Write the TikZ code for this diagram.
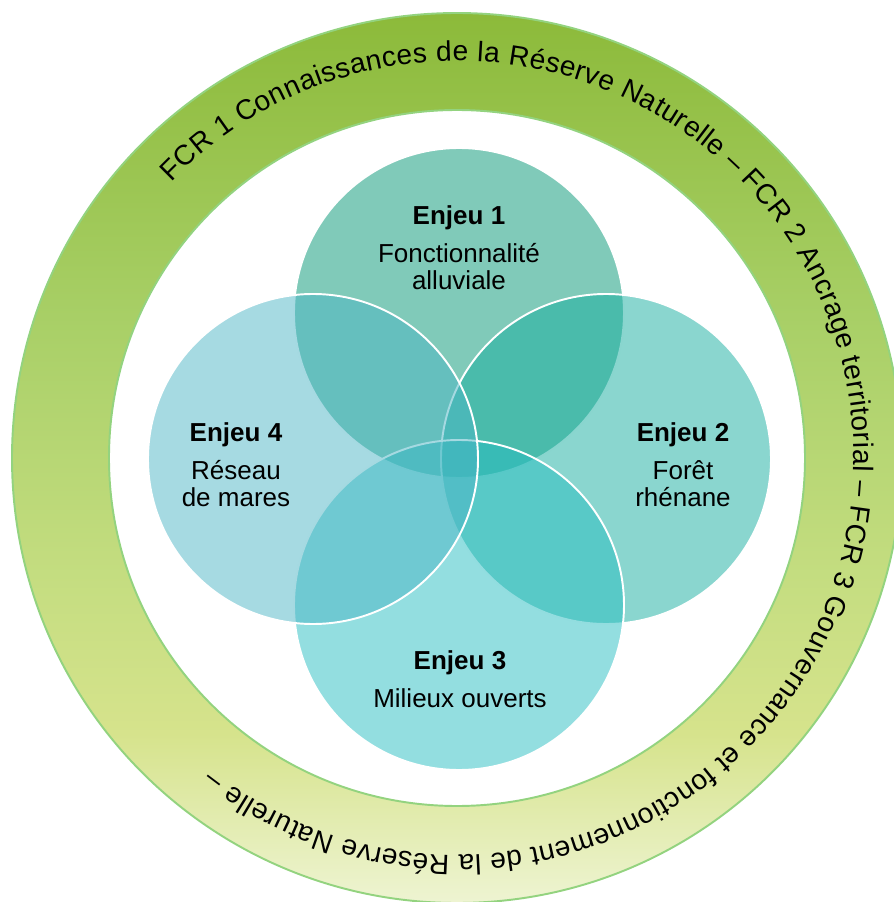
\documentclass[tikz,border=0pt]{standalone}
\usepackage{fontspec}
\setmainfont{Liberation Sans}
\usetikzlibrary{decorations.text}

\definecolor{ringA}{HTML}{8CBA3A}
\definecolor{ringB}{HTML}{A8CF66}
\definecolor{ringC}{HTML}{C4DD80}
\definecolor{ringD}{HTML}{D6E38C}
\definecolor{ringE}{HTML}{EEF4D2}
\definecolor{ringline}{HTML}{93D37F}
\definecolor{enjeuA}{HTML}{019573}
\definecolor{enjeuB}{HTML}{15AD9F}
\definecolor{enjeuC}{HTML}{27BDC1}
\definecolor{enjeuD}{HTML}{4DB5C5}

\pgfdeclareverticalshading{ringshade}{100bp}{color(0bp)=(ringE); color(25bp)=(ringE); color(34.5bp)=(ringD); color(43.5bp)=(ringC); color(58bp)=(ringB); color(75bp)=(ringA); color(100bp)=(ringA)}

\newcommand\ringfont{\fontsize{16}{19}\selectfont}
\newcommand\venntext{\fontsize{14.8}{15.4}\selectfont}

\begin{document}
\begin{tikzpicture}[
  venn/.style={circle, draw=white, line width=1.1pt, fill opacity=0.5, text opacity=1, minimum size=6.6cm, inner sep=0pt},
  lbl/.style={align=center, font=\venntext}]
\useasboundingbox (-9.14,-8.88) rectangle (8.72,9.16);
% anneau des FCR
\shade[shading=ringshade, even odd rule] (0,0) circle (8.9) (0,0) circle (6.96);
\draw[ringline, line width=1.1pt] (0,0) circle (8.9);
\draw[ringline, line width=1.1pt] (0,0) circle (6.96);
\path[decorate, decoration={text along path, text align=fit to path,
  text={|\ringfont|FCR 1 Connaissances de la Réserve Naturelle – FCR 2 Ancrage territorial – FCR 3 Gouvernance et fonctionnement de la Réserve Naturelle –}}]
  (136:7.94) arc[start angle=136, end angle=-128, radius=7.94];
% enjeux
\node[venn, fill=enjeuA] (e1) at (0.04,2.90) {};
\node[venn, fill=enjeuB] (e2) at (2.98,-0.02) {};
\node[venn, fill=enjeuC] (e3) at (0.04,-2.94) {};
\node[venn, fill=enjeuD] (e4) at (-2.88,-0.02) {};
\node[lbl] (t1) at (0.04,4.2) {\textbf{Enjeu 1}\\[6pt]Fonctionnalité\\alluviale};
\node[lbl] (t2) at (4.52,-0.14) {\textbf{Enjeu 2}\\[6pt]Forêt\\rhénane};
\node[lbl] (t3) at (0.06,-4.42) {\textbf{Enjeu 3}\\[6pt]Milieux ouverts};
\node[lbl] (t4) at (-4.42,-0.14) {\textbf{Enjeu 4}\\[6pt]Réseau\\de mares};
\end{tikzpicture}
\end{document}
